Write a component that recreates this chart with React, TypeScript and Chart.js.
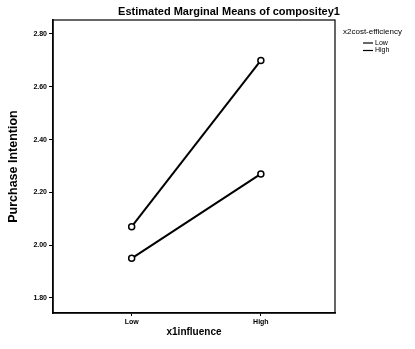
import React, { useEffect, useRef } from "react";
import { Chart, registerables } from "chart.js";

Chart.register(...registerables);

const xCategories = ["Low", "High"];
const seriesNames = ["Low", "High"];
const lowCostEfficiency = [1.95, 2.27];
const highCostEfficiency = [2.07, 2.7];
const yTickValues = [1.8, 2.0, 2.2, 2.4, 2.6, 2.8];

const chartTitle = "Estimated Marginal Means of compositey1";
const legendTitle = "x2cost-efficiency";
const yTitle = "Purchase Intention";
const xTitle = "x1influence";

const FONT = "'Liberation Sans', Arial, sans-serif";

const decorPlugin = {
  id: "decor",
  afterDraw(chart: any) {
    const { ctx, chartArea } = chart;
    ctx.save();
    // frame
    ctx.strokeStyle = "#000";
    ctx.lineWidth = 1.2;
    ctx.strokeRect(chartArea.left, chartArea.top, chartArea.right - chartArea.left, chartArea.bottom - chartArea.top);
    // title
    ctx.fillStyle = "#000";
    ctx.font = `bold 11px ${FONT}`;
    ctx.textAlign = "center";
    ctx.textBaseline = "middle";
    ctx.fillText(chartTitle, 229, 12);
    // legend
    const lx = chartArea.right + 8;
    ctx.font = `8px ${FONT}`;
    ctx.textAlign = "left";
    ctx.fillText(legendTitle, lx, 32);
    seriesNames.forEach((name, i) => {
      const y = 43 + i * 7.5;
      ctx.beginPath();
      ctx.lineWidth = 1.2;
      ctx.moveTo(lx + 20, y);
      ctx.lineTo(lx + 30, y);
      ctx.stroke();
      ctx.font = `7px ${FONT}`;
      ctx.fillText(name, lx + 32, y);
    });
    ctx.restore();
  },
};

export default function App() {
  const ref = useRef<HTMLCanvasElement | null>(null);
  useEffect(() => {
    if (!ref.current) return;
    const mk = (vals: number[]) => vals.map((v, i) => ({ x: i, y: v }));
    const chart = new Chart(ref.current, {
      type: "line",
      data: {
        datasets: [
          { label: seriesNames[0], data: mk(lowCostEfficiency) },
          { label: seriesNames[1], data: mk(highCostEfficiency) },
        ].map((d) => ({
          ...d,
          borderColor: "#000",
          borderWidth: 2,
          pointRadius: 3,
          pointBorderWidth: 1.5,
          pointBackgroundColor: "#fff",
          pointBorderColor: "#000",
          fill: false,
          tension: 0,
        })),
      },
      options: {
        animation: false,
        responsive: true,
        maintainAspectRatio: false,
        layout: { padding: { top: 20, right: 80, left: 0, bottom: 0 } },
        plugins: { legend: { display: false }, title: { display: false }, tooltip: { enabled: false } },
        scales: {
          x: {
            type: "linear",
            min: -0.609,
            max: 1.574,
            afterBuildTicks: (s: any) => {
              s.ticks = xCategories.map((_, i) => ({ value: i }));
            },
            afterFit: (s: any) => {
              s.height = 36;
            },
            ticks: {
              color: "#000",
              font: { family: FONT, size: 7, weight: "bold" },
              padding: 2,
              callback: (v: any) => xCategories[v] ?? "",
              maxRotation: 0,
            },
            grid: { drawOnChartArea: false, drawTicks: true, tickLength: 3, color: "#000" },
            border: { display: true, color: "#000", width: 1.5 },
            title: {
              display: true,
              text: xTitle,
              color: "#000",
              font: { family: FONT, size: 10, weight: "bold" },
              padding: { top: 0, bottom: 11 },
            },
          },
          y: {
            type: "linear",
            min: 1.743,
            max: 2.853,
            afterBuildTicks: (s: any) => {
              s.ticks = yTickValues.map((v) => ({ value: v }));
            },
            afterFit: (s: any) => {
              s.width = 53;
            },
            ticks: {
              color: "#000",
              font: { family: FONT, size: 7, weight: "bold" },
              padding: 2,
              callback: (v: any) => Number(v).toFixed(2),
            },
            grid: { drawOnChartArea: false, drawTicks: true, tickLength: 4, color: "#000" },
            border: { display: true, color: "#000", width: 1.5 },
            title: {
              display: true,
              text: yTitle,
              color: "#000",
              font: { family: FONT, size: 12.5, weight: "bold" },
              padding: { top: 6.5, bottom: 0 },
            },
          },
        },
      },
      plugins: [decorPlugin],
    });
    return () => chart.destroy();
  }, []);
  return (
    <div style={{ position: "fixed", left: 0, top: 0, width: 415, height: 349, background: "#fff" }}>
      <canvas ref={ref} />
    </div>
  );
}
